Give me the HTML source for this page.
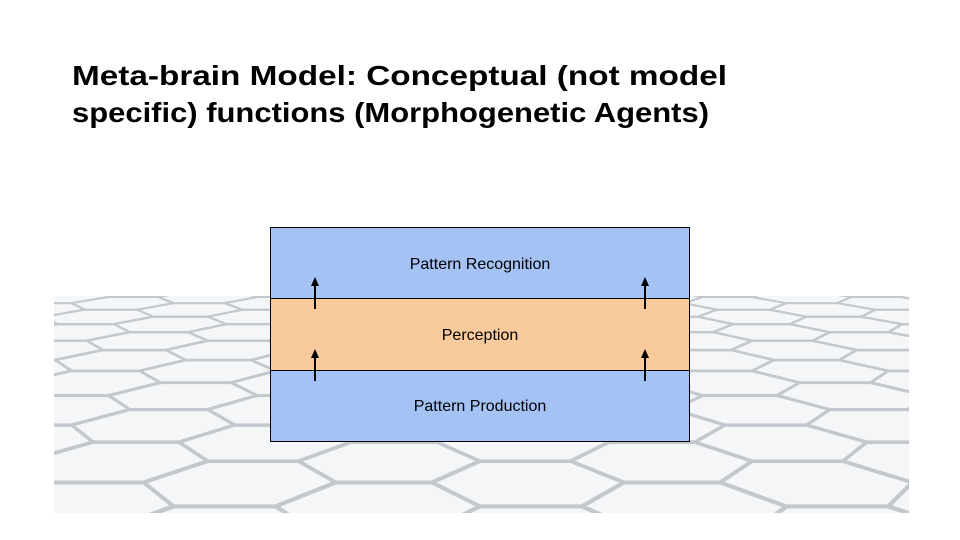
<!DOCTYPE html>
<html><head><meta charset="utf-8"><style>
html,body{margin:0;padding:0;background:#fff;width:960px;height:540px;overflow:hidden;}
body{position:relative;font-family:"Liberation Sans",sans-serif;}
svg{display:block}
</style></head><body>
<svg width="960" height="540" viewBox="0 0 960 540" style="position:absolute;left:0;top:0">
<defs>
<linearGradient id="bg" x1="0" y1="0" x2="0" y2="1">
<stop offset="0" stop-color="#f3f4f6"/><stop offset="1" stop-color="#dfe2e6"/>
</linearGradient>
<clipPath id="cl"><rect x="54" y="296" width="855" height="217"/></clipPath>
</defs>
<rect x="54" y="296" width="855" height="217" fill="url(#bg)"/>
<g id="hex" clip-path="url(#cl)"></g>
<text x="72" y="85" font-family="Liberation Sans, sans-serif" font-weight="bold" font-size="28" fill="#000" textLength="655" lengthAdjust="spacingAndGlyphs">Meta-brain Model: Conceptual (not model</text>
<text x="72" y="122" font-family="Liberation Sans, sans-serif" font-weight="bold" font-size="28" fill="#000" textLength="637" lengthAdjust="spacingAndGlyphs">specific) functions (Morphogenetic Agents)</text>
<rect x="270.5" y="227.5" width="419" height="71" fill="#a4c2f4" stroke="#000" stroke-width="1"/>
<rect x="270.5" y="298.5" width="419" height="72" fill="#f9cb9c" stroke="#000" stroke-width="1"/>
<rect x="270.5" y="370.5" width="419" height="71" fill="#a4c2f4" stroke="#000" stroke-width="1"/>
<g font-family="Liberation Sans, sans-serif" font-size="16" fill="#000" text-anchor="middle">
<text x="480" y="269">Pattern Recognition</text>
<text x="480" y="340">Perception</text>
<text x="480" y="411">Pattern Production</text>
</g>
<g stroke="#000" stroke-width="2">
<line x1="315" y1="309" x2="315" y2="284"/><line x1="645" y1="309" x2="645" y2="284"/>
<line x1="315" y1="381" x2="315" y2="356"/><line x1="645" y1="381" x2="645" y2="356"/>
</g>
<g fill="#000">
<polygon points="315,277 311,286 319,286"/><polygon points="645,277 641,286 649,286"/>
<polygon points="315,349 311,358 319,358"/><polygon points="645,349 641,358 649,358"/>
</g>
</svg>
<script>
(function(){
var g=document.getElementById('hex');var s='';
var hy=100,cx=480,K=390,KX=700;
function P(x,z){var f=1/z;return [cx+x*f*KX, hy+f*K];}
var R=0.14,h=0.06;
for(var col=-30;col<=30;col++){
 var x=col*1.5*R+0.07;
 for(var r=0;r<40;r++){
  var z=0.9+r*2*h+(col&1?h:0);
  var pts=[[x-R,z],[x-R/2,z-h],[x+R/2,z-h],[x+R,z],[x+R/2,z+h],[x-R/2,z+h]];
  var out=[];for(var i=0;i<6;i++){var p=P(pts[i][0],pts[i][1]);out.push(p[0].toFixed(1)+','+p[1].toFixed(1));}
  var sw=(4/z).toFixed(2);
  s+='<polygon points="'+out.join(' ')+'" fill="#f5f6f8" stroke="#c3c8ce" stroke-width="'+sw+'"/>';
 }
}
g.innerHTML=s;
})();
</script>
</body></html>
